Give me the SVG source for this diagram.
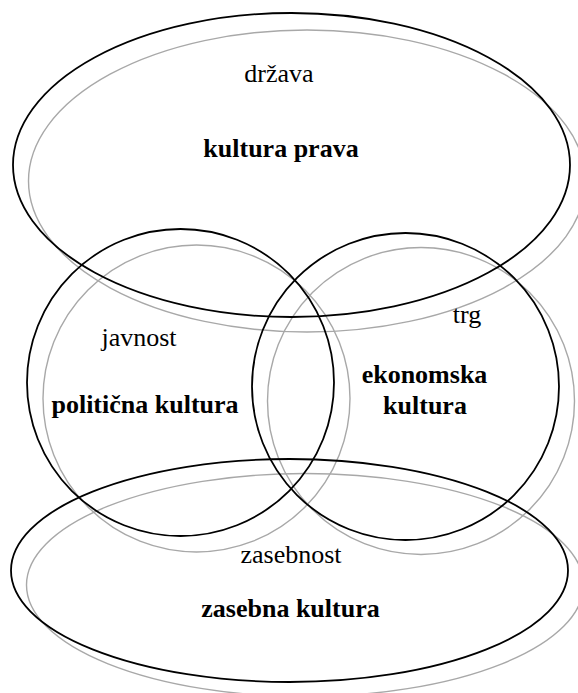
<svg xmlns="http://www.w3.org/2000/svg" width="578" height="693" viewBox="0 0 578 693">
  <style>
    .shadow { fill: none; stroke: #a8a8a8; stroke-width: 1.4; }
    .outline { fill: none; stroke: #000000; stroke-width: 1.8; }
    text { font-family: 'Liberation Serif', 'Times New Roman', 'DejaVu Serif', serif; font-size: 26px; fill: #000000; text-anchor: middle; }
    .b { font-weight: bold; }
  </style>
  <rect width="578" height="693" fill="#ffffff"/>
  <g id="shadows">
    <ellipse class="shadow" cx="307" cy="181" rx="278.5" ry="151"/>
    <ellipse class="shadow" cx="196.5" cy="398.5" rx="153.5" ry="153.5"/>
    <ellipse class="shadow" cx="421" cy="401" rx="153.5" ry="153.5"/>
    <ellipse class="shadow" cx="305" cy="585" rx="278.5" ry="111.5"/>
  </g>
  <g id="drzava">
    <ellipse class="outline" cx="291.5" cy="165" rx="278.5" ry="152"/>
    <text x="279" y="82" font-family="Liberation Serif, serif">država</text>
    <text class="b" x="281" y="157" font-family="Liberation Serif, serif">kultura prava</text>
  </g>
  <g id="javnost">
    <ellipse class="outline" cx="180.5" cy="382.5" rx="153.5" ry="153.5"/>
    <text x="139" y="346" font-family="Liberation Serif, serif">javnost</text>
    <text class="b" x="145" y="413" font-family="Liberation Serif, serif">politična kultura</text>
  </g>
  <g id="trg">
    <ellipse class="outline" cx="405.5" cy="386.5" rx="153.5" ry="153.5"/>
    <text x="467" y="323" font-family="Liberation Serif, serif">trg</text>
    <text class="b" x="424.5" y="383" font-family="Liberation Serif, serif">ekonomska</text>
    <text class="b" x="425" y="414" font-family="Liberation Serif, serif">kultura</text>
  </g>
  <g id="zasebnost">
    <ellipse class="outline" cx="289.5" cy="570.5" rx="278.5" ry="111.5"/>
    <text x="291" y="563" font-family="Liberation Serif, serif">zasebnost</text>
    <text class="b" x="290.5" y="617" font-family="Liberation Serif, serif">zasebna kultura</text>
  </g>
</svg>
